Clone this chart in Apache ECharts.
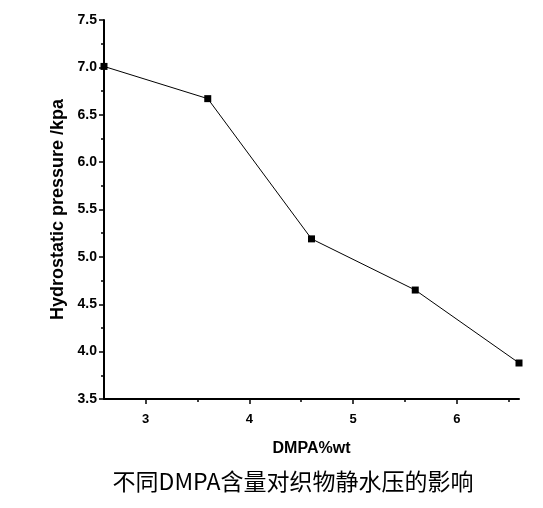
<!DOCTYPE html>
<html>
<head>
<meta charset="utf-8">
<script src="https://cdn.jsdelivr.net/npm/echarts@6/dist/echarts.min.js"></script>
<style>
html, body { margin: 0; padding: 0; background: #fff; }
#main { width: 543px; height: 508px; }
</style>
</head>
<body>
<div id="main"></div>
<script>
// DMPA 含量 (wt%) 与静水压 (kPa)
var dmpa_content = [2.6, 3.6, 4.6, 5.6, 6.6];
var hydro_pressure = [7.01, 6.67, 5.19, 4.65, 3.88];
var x_major_ticks = [3, 4, 5, 6];
var x_minor_ticks = [3.5, 4.5, 5.5, 6.5];

var myChart = echarts.init(document.getElementById('main'));

var points = [];
for (var i = 0; i < dmpa_content.length; i++) {
    points.push([dmpa_content[i], hydro_pressure[i]]);
}

var option = {
    animation: false,
    textStyle: { fontFamily: 'Liberation Sans' },
    title: {
        text: '不同DMPA含量对织物静水压的影响',
        left: 288,
        textAlign: 'center',
        top: 465,
        textStyle: {
            fontFamily: 'Noto Sans CJK SC',
            fontSize: 23,
            fontWeight: 'normal',
            color: '#000'
        }
    },
    grid: { left: 104, right: 24, top: 20, bottom: 109 },
    xAxis: [
        {
            type: 'value',
            min: 2.6,
            max: 6.6,
            name: 'DMPA%wt',
            nameLocation: 'middle',
            nameGap: 42,
            nameTextStyle: { fontSize: 16, fontWeight: 'bold', color: '#000' },
            splitLine: { show: false },
            axisLine: { lineStyle: { color: '#000', width: 2 } },
            axisTick: { customValues: x_major_ticks, length: 5, lineStyle: { color: '#000', width: 1.5 } },
            axisLabel: { customValues: x_major_ticks, margin: 14, fontSize: 13, fontWeight: 'bold', color: '#000' }
        },
        {
            type: 'value',
            position: 'bottom',
            min: 2.6,
            max: 6.6,
            splitLine: { show: false },
            axisLine: { show: false },
            axisTick: { customValues: x_minor_ticks, length: 3, lineStyle: { color: '#000', width: 1.5 } },
            axisLabel: { show: false }
        }
    ],
    yAxis: {
        type: 'value',
        min: 3.5,
        max: 7.5,
        interval: 0.5,
        name: 'Hydrostatic pressure /kpa',
        nameLocation: 'middle',
        nameGap: 36,
        nameTextStyle: { fontSize: 18, fontWeight: 'bold', color: '#000' },
        splitLine: { show: false },
        axisLine: { lineStyle: { color: '#000', width: 2 } },
        axisTick: { length: 5, lineStyle: { color: '#000', width: 1.5 } },
        minorTick: { show: true, splitNumber: 2, length: 3, lineStyle: { color: '#000', width: 1.5 } },
        axisLabel: {
            margin: 7,
            fontSize: 14,
            fontWeight: 'bold',
            color: '#000',
            formatter: function (v) { return v.toFixed(1); }
        }
    },
    series: [
        {
            type: 'line',
            data: points,
            symbol: 'rect',
            symbolSize: 7,
            clip: false,
            lineStyle: { color: '#000', width: 1 },
            itemStyle: { color: '#000' }
        }
    ]
};
myChart.setOption(option);
</script>
</body>
</html>
